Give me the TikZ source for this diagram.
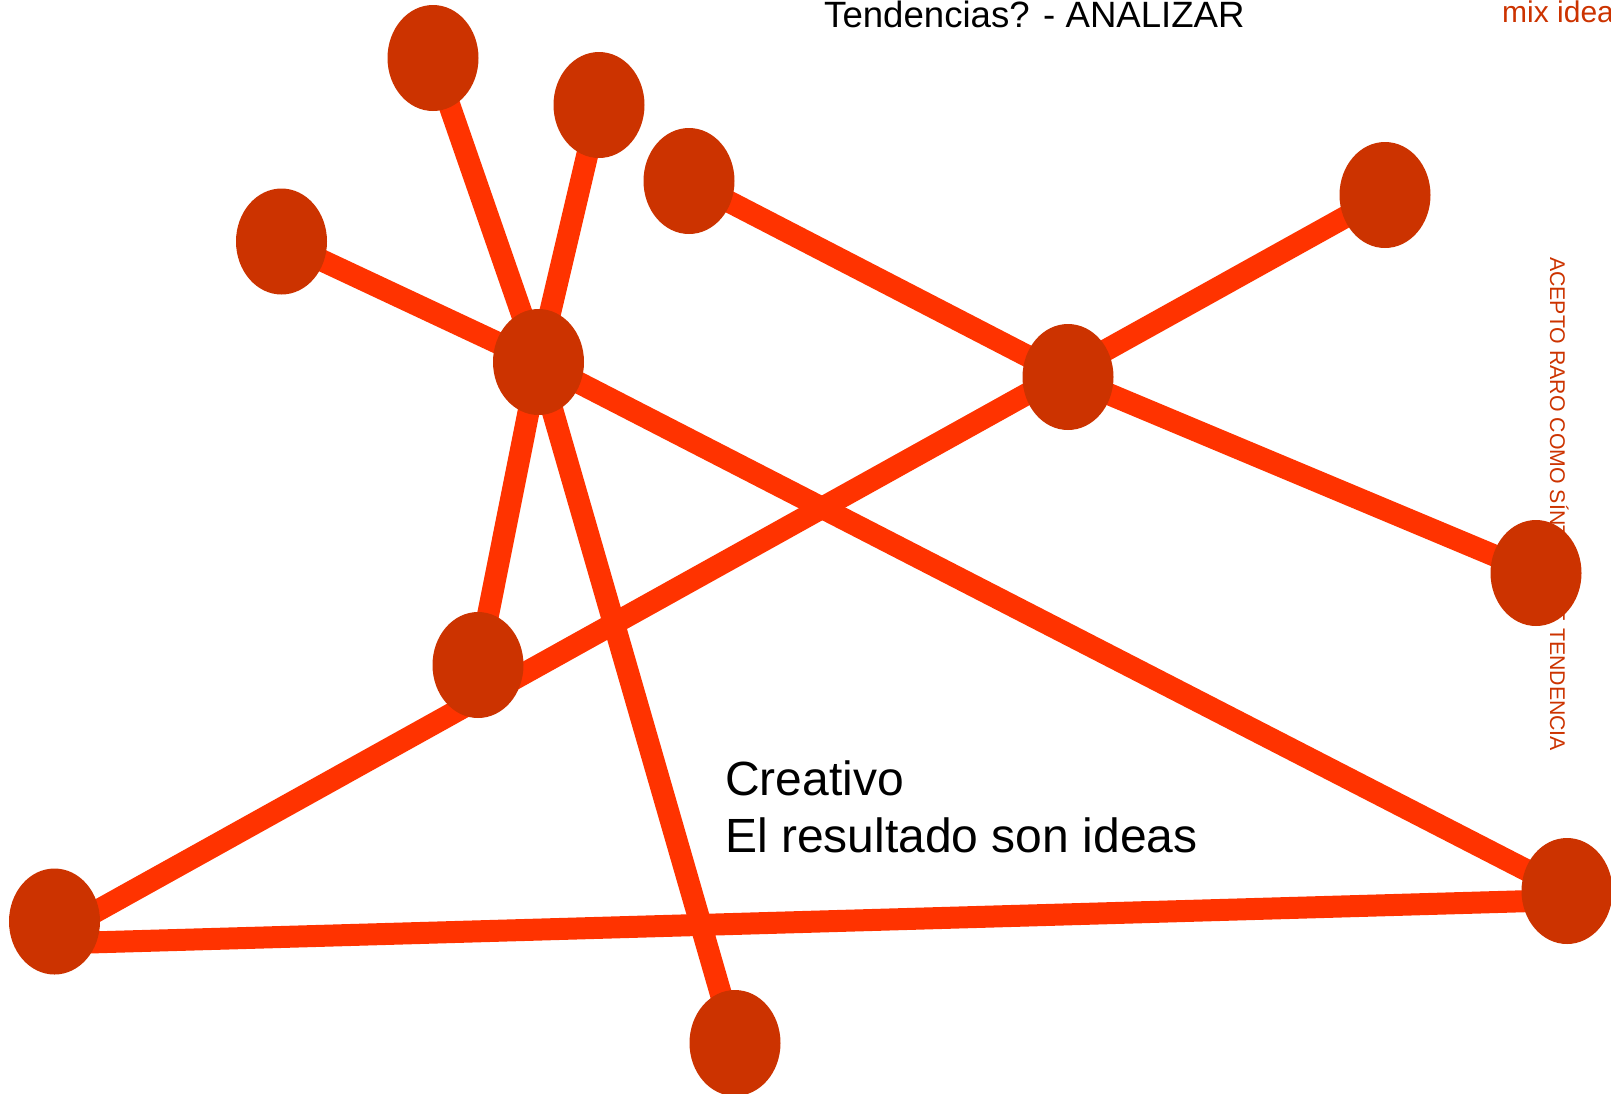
\documentclass[tikz,border=0pt]{standalone}
\usepackage{fontspec}
\setmainfont{Liberation Sans}
\usetikzlibrary{shapes.geometric,backgrounds}
\definecolor{ideafill}{HTML}{CC3300}
\definecolor{idealine}{HTML}{FF3300}

\begin{document}
\begin{tikzpicture}[x=1pt, y=-1pt,
    idea/.style={ellipse, fill=ideafill, inner sep=0, minimum width=91, minimum height=106},
    link/.style={idealine, line width=22}]
    \useasboundingbox (0,0) rectangle (1611,1093);

    \node [anchor=base west, inner sep=0, font=\fontsize{36.6}{44}\selectfont] (title) at (824, 27) {Tendencias? - ANALIZAR};
    \node [anchor=base west, inner sep=0, text=ideafill, font=\fontsize{30}{36}\selectfont] (mix) at (1502, 22) {mix idea};
    \node [anchor=base west, inner sep=0, rotate=-90, text=ideafill, font=\fontsize{21.3}{26}\selectfont] (side) at (1550, 257) {ACEPTO RARO COMO SÍNTOMA DE TENDENCIA};
    \node [anchor=base west, inner sep=0, align=left, font=\fontsize{48}{57}\selectfont] (note) at (725, 852) {Creativo\\El resultado son ideas};

    \node [idea] (a) at (433, 58) {};
    \node [idea] (b) at (599, 105) {};
    \node [idea] (c) at (689, 181) {};
    \node [idea] (d) at (281.5, 241.5) {};
    \node [idea] (e) at (1385, 195) {};
    \node [idea] (hub) at (538.5, 362) {};
    \node [idea] (f) at (1068, 377) {};
    \node [idea] (g) at (1536, 573) {};
    \node [idea] (h) at (478, 665) {};
    \node [idea] (i) at (54.5, 921.5) {};
    \node [idea] (j) at (1567, 891) {};
    \node [idea] (k) at (735, 1043) {};

    \begin{pgfonlayer}{background}
    \draw [link] (a.center) -- (hub.center) -- (k.center);
    \draw [link] (b.center) -- (hub.center) -- (h.center);
    \draw [link] (d.center) -- (hub.center) -- (j.center);
    \draw [link] (c.center) -- (f.center) -- (g.center);
    \draw [link] (e.center) -- ([yshift=-13pt]i.center);
    \draw [link] ([yshift=-22pt]i.center) -- ([yshift=-9pt]j.center);
    \end{pgfonlayer}
  \end{tikzpicture}
\end{document}
